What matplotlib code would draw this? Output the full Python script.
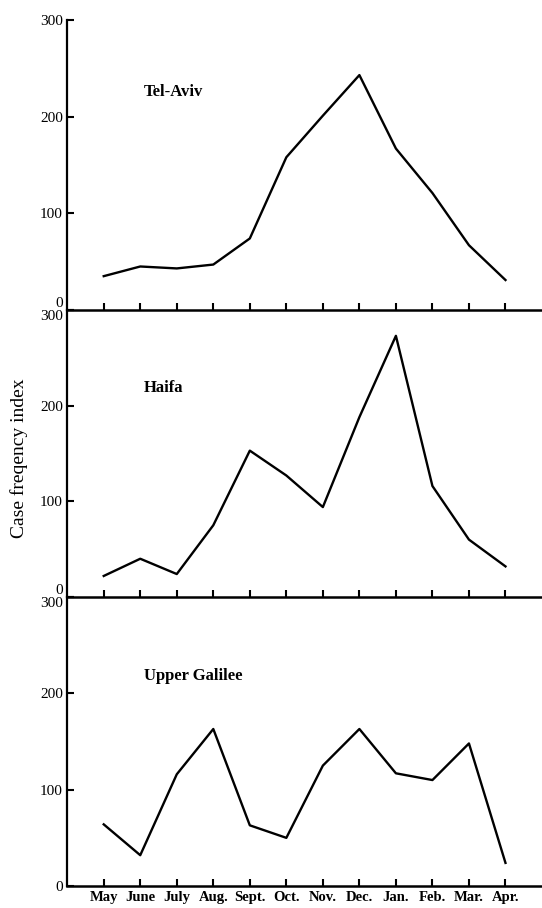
import numpy as np
import matplotlib.pyplot as plt

months = ['May', 'June', 'July', 'Aug.', 'Sept.', 'Oct.', 'Nov.', 'Dec.',
          'Jan.', 'Feb.', 'Mar.', 'Apr.']
tel_aviv = [35, 45, 43, 47, 74, 158, 201, 243, 167, 121, 67, 31]
haifa = [22, 40, 24, 75, 153, 127, 94, 188, 273, 116, 60, 32]
upper_galilee = [64, 32, 116, 163, 63, 50, 125, 163, 117, 110, 148, 24]
names = ['Tel-Aviv', 'Haifa', 'Upper Galilee']

plt.rcParams['font.family'] = ['Liberation Serif', 'DejaVu Serif']

fig = plt.figure(figsize=(5.42, 9.08), dpi=100)
x = np.arange(len(months))

# panel boxes (left, bottom, width, height) in figure fraction
boxes = [(0.124, 0.6586, 0.876, 0.3194),
         (0.124, 0.3425, 0.876, 0.3161),
         (0.124, 0.0242, 0.876, 0.3183)]

for i, (series, name) in enumerate(zip([tel_aviv, haifa, upper_galilee], names)):
    ax = fig.add_axes(boxes[i])
    ax.plot(x, series, color='black', lw=1.7)
    ax.set_xlim(-1, 12)
    ax.set_ylim(0, 300)
    ax.spines['top'].set_visible(False)
    ax.spines['right'].set_visible(False)
    ax.spines['left'].set_linewidth(1.6)
    ax.spines['bottom'].set_linewidth(1.8)
    ax.set_yticks([0, 100, 200, 300])
    ax.set_xticks(x)
    ax.tick_params(axis='both', direction='in', length=5, width=1.5,
                   labelsize=11)
    ax.tick_params(axis='y', pad=3)
    # keep the 0 of an upper panel clear of the 300 of the panel below
    labels = ax.get_yticklabels()
    if i < 2:
        labels[0].set_va('bottom')
    if i > 0:
        labels[-1].set_va('top')
    if i == 2:
        ax.set_xticklabels(months, fontsize=10.5, fontweight='bold')
    else:
        ax.set_xticklabels([])
    ax.text(1.1, 225 if i == 0 else 218, name, fontsize=12,
            fontweight='bold', va='center', ha='left')
    ax.patch.set_alpha(0)

fig.text(0.035, 0.495, 'Case freqency index', rotation=90, fontsize=14,
         va='center', ha='center')

fig.savefig('out.png', dpi=100)
